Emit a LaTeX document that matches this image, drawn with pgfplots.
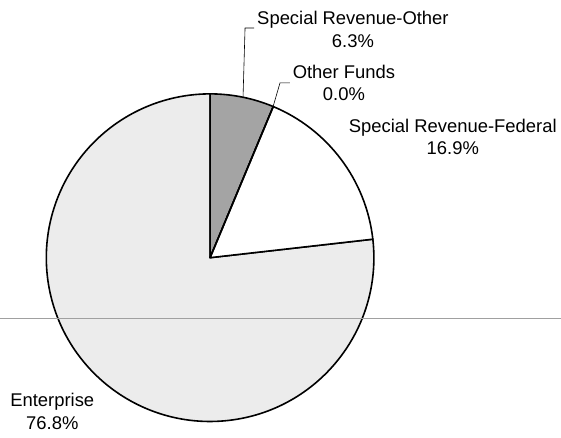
\documentclass[border=0pt]{standalone}
\usepackage{pgfplots}
\pgfplotsset{compat=1.18}
\usepackage{fontspec}
\setmainfont{Liberation Sans}
\definecolor{entfill}{HTML}{ECECEC}
\definecolor{othfill}{HTML}{A4A4A4}
\definecolor{scanline}{HTML}{A0A0A0}
\begin{document}
\begin{tikzpicture}
% shares in percent, clockwise from 12 o'clock
\def\vOther{6.3}\def\vFunds{0.0}\def\vFed{16.9}\def\vEnt{76.8}
\pgfmathsetmacro\aA{90}
\pgfmathsetmacro\aB{\aA-3.6*\vOther}
\pgfmathsetmacro\aC{\aB-3.6*\vFunds}
\pgfmathsetmacro\aD{\aC-3.6*\vFed}
\pgfmathsetmacro\aE{\aD-3.6*\vEnt}
\begin{axis}[hide axis, scale only axis, width=561bp, height=438bp,
  xmin=0, xmax=561, ymin=0, ymax=438, y dir=reverse, clip=false]
\path (axis cs:0,0) rectangle (axis cs:561,438);
% Enterprise
\fill[entfill, draw=black, line width=1.6bp, line join=round] (axis cs:210,258) -- ++(\aD:164bp) arc[start angle=\aD, end angle=\aE, radius=164bp] -- cycle;
% Special Revenue-Other
\fill[othfill, draw=black, line width=1.6bp, line join=round] (axis cs:210,258) -- ++(\aA:164bp) arc[start angle=\aA, end angle=\aB, radius=164bp] -- cycle;
% Special Revenue-Federal
\fill[white, draw=black, line width=1.6bp, line join=round] (axis cs:210,258) -- ++(\aC:164bp) arc[start angle=\aC, end angle=\aD, radius=164bp] -- cycle;
% Other Funds (0.0%)
\draw[black, line width=1.6bp] (axis cs:210,258) -- ++(\aB:164bp);
% leader lines
\addplot[black, line width=0.6bp, mark=none] coordinates {(254,28) (245,28) (243,97)};
\addplot[black, line width=0.6bp, mark=none] coordinates {(290,83) (280,83) (273,107)};
% horizontal scan line
\addplot[scanline, line width=0.7bp, mark=none] coordinates {(0,319) (561,319)};
% labels
\tikzset{lbl/.style={font=\fontsize{18.5}{22.5}\selectfont, align=center, inner sep=0pt}}
\node[lbl] at (axis cs:353,29.5) {Special Revenue-Other\\6.3\%};
\node[lbl] at (axis cs:344,83) {Other Funds\\0.0\%};
\node[lbl] at (axis cs:453,137) {Special Revenue-Federal\\16.9\%};
\node[lbl] at (axis cs:52,412) {Enterprise\\76.8\%};
\end{axis}
\end{tikzpicture}
\end{document}
